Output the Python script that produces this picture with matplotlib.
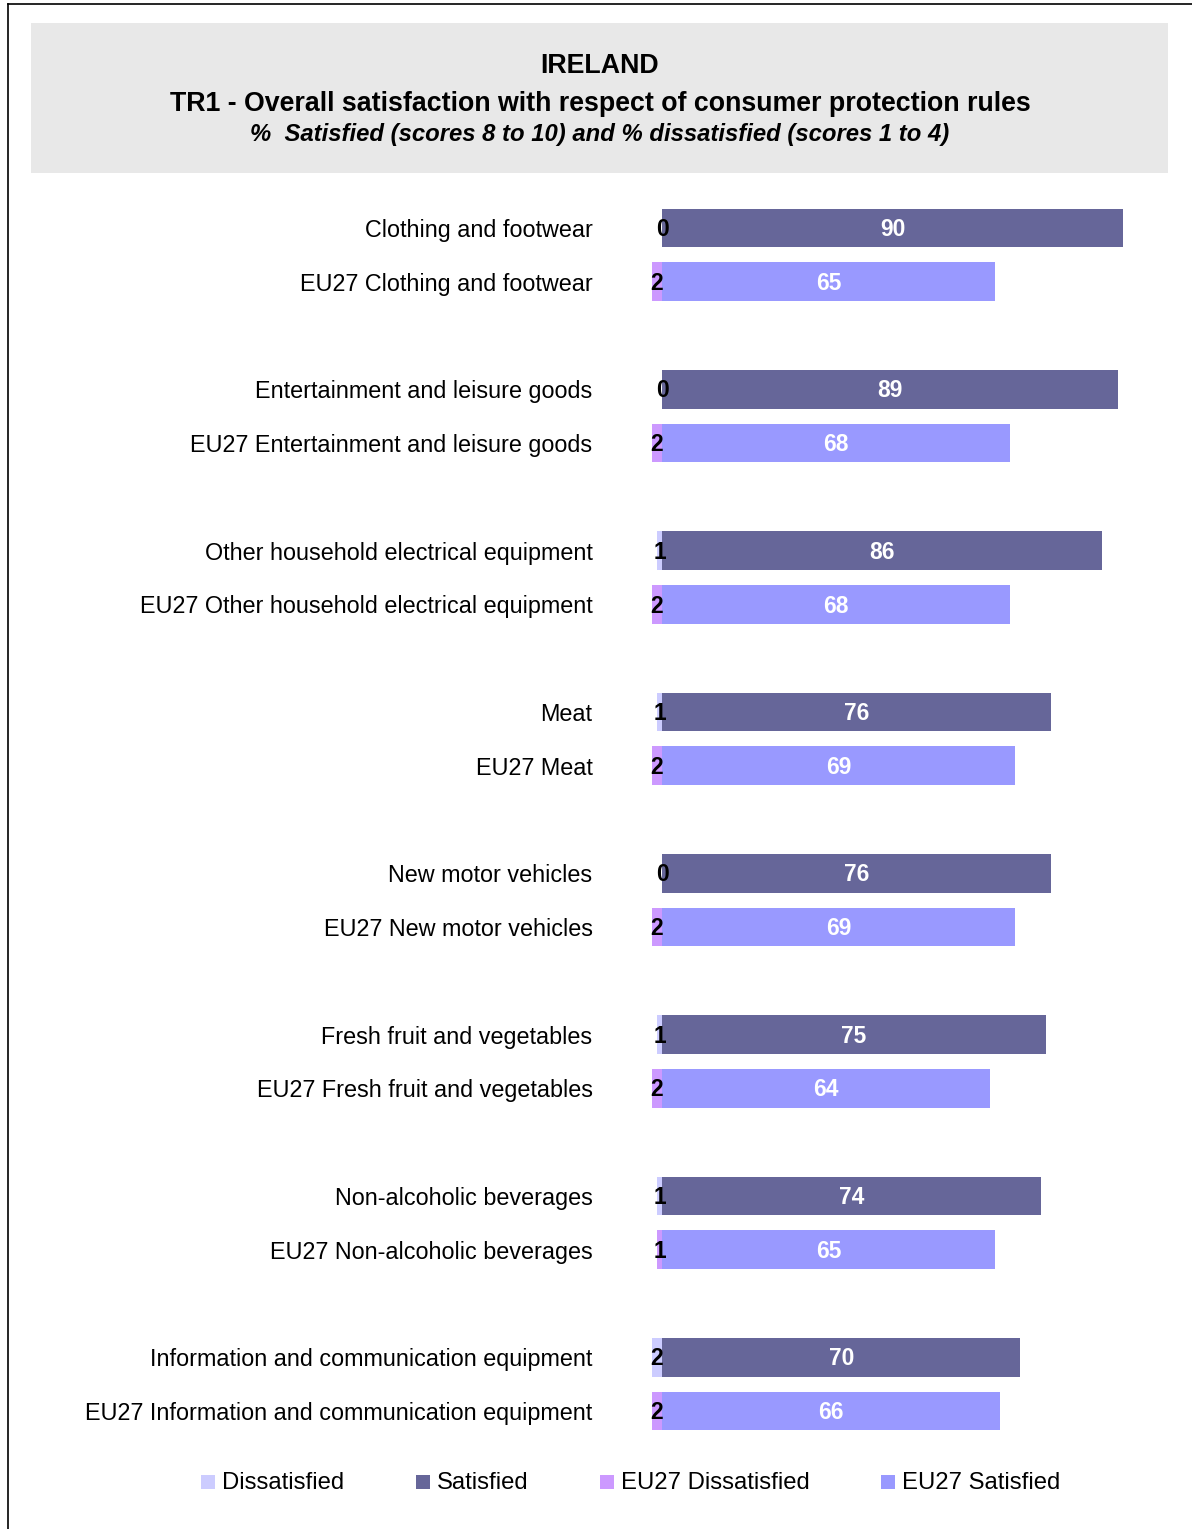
import matplotlib.pyplot as plt
from matplotlib.patches import Rectangle
from matplotlib.lines import Line2D

plt.rcParams['font.family'] = ['Liberation Sans', 'DejaVu Sans']

categories = [
    'Clothing and footwear',
    'Entertainment and leisure goods',
    'Other household electrical equipment',
    'Meat',
    'New motor vehicles',
    'Fresh fruit and vegetables',
    'Non-alcoholic beverages',
    'Information and communication equipment',
]
ie_dissatisfied = [0, 0, 1, 1, 0, 1, 1, 2]
ie_satisfied = [90, 89, 86, 76, 76, 75, 74, 70]
eu_dissatisfied = [2, 2, 2, 2, 2, 2, 1, 2]
eu_satisfied = [65, 68, 68, 69, 69, 64, 65, 66]

c_dis = '#CCCCFF'
c_sat = '#666699'
c_eu_dis = '#CC99FF'
c_eu_sat = '#9999FF'

W, H = 1192, 1529
fig = plt.figure(figsize=(W / 100, H / 100), dpi=100)

# frame lines (top and left)
fig.add_artist(Line2D([8 / W, 8 / W], [0, 1 - 4 / H], color='black', lw=1.2))
fig.add_artist(Line2D([8 / W, 1], [1 - 4 / H, 1 - 4 / H], color='black', lw=1.2))

# grey title box
fig.add_artist(Rectangle((31 / W, 1 - 173 / H), (1168 - 31) / W, 150 / H,
                         facecolor='#E8E8E8', edgecolor='none'))
fig.text(600 / W, 1 - 66 / H, 'IRELAND', ha='center', va='center',
         fontsize=19.3, fontweight='bold')
fig.text(600 / W, 1 - 104 / H,
         'TR1 - Overall satisfaction with respect of consumer protection rules',
         ha='center', va='center', fontsize=19.3, fontweight='bold')
fig.text(600 / W, 1 - 135 / H,
         '%  Satisfied (scores 8 to 10) and % dissatisfied (scores 1 to 4)',
         ha='center', va='center', fontsize=17.2, fontweight='bold', style='italic')

# axes placed in pixel coordinates
ax_l, ax_r, ax_t, ax_b = 612, 1168, 190, 1440
ax = fig.add_axes([ax_l / W, 1 - ax_b / H, (ax_r - ax_l) / W, (ax_b - ax_t) / H])
px_per_unit = 5.12
ax.set_xlim(-(662 - ax_l) / px_per_unit, (ax_r - 662) / px_per_unit)
row_px = (1411 - 228) / 22
ax.set_ylim(22 + (ax_b - 1411) / row_px, -(228 - ax_t) / row_px)

h = 0.72
fs = 16.4
dy = 0.03
ypos, labels = [], []
for i, cat in enumerate(categories):
    y1 = i * 3
    y2 = i * 3 + 1
    ax.barh(y1, -ie_dissatisfied[i], height=h, color=c_dis)
    ax.barh(y1, ie_satisfied[i], height=h, color=c_sat)
    ax.barh(y2, -eu_dissatisfied[i], height=h, color=c_eu_dis)
    ax.barh(y2, eu_satisfied[i], height=h, color=c_eu_sat)
    ax.text(-ie_dissatisfied[i] / 2, y1 + dy, str(ie_dissatisfied[i]), ha='center', va='center',
            fontsize=fs, fontweight='bold')
    ax.text(ie_satisfied[i] / 2, y1 + dy, str(ie_satisfied[i]), ha='center', va='center',
            fontsize=fs, fontweight='bold', color='white')
    ax.text(-eu_dissatisfied[i] / 2, y2 + dy, str(eu_dissatisfied[i]), ha='center', va='center',
            fontsize=fs, fontweight='bold')
    ax.text(eu_satisfied[i] / 2, y2 + dy, str(eu_satisfied[i]), ha='center', va='center',
            fontsize=fs, fontweight='bold', color='white')
    ypos += [y1, y2]
    labels += [cat, 'EU27 ' + cat]

ax.set_yticks(ypos)
ax.set_yticklabels(labels, fontsize=16.8)
ax.tick_params(axis='y', length=0, pad=14)
ax.set_xticks([])
for s in ax.spines.values():
    s.set_visible(False)

# legend
leg_items = [('Dissatisfied', c_dis, 201), ('Satisfied', c_sat, 416),
             ('EU27 Dissatisfied', c_eu_dis, 600), ('EU27 Satisfied', c_eu_sat, 881)]
for name, col, x in leg_items:
    fig.add_artist(Rectangle((x / W, 1 - 1489 / H), 14 / W, 14 / H,
                             facecolor=col, edgecolor='none'))
    fig.text((x + 21) / W, 1 - 1483 / H, name, ha='left', va='center', fontsize=17.2)

fig.savefig('out.png', dpi=100)
